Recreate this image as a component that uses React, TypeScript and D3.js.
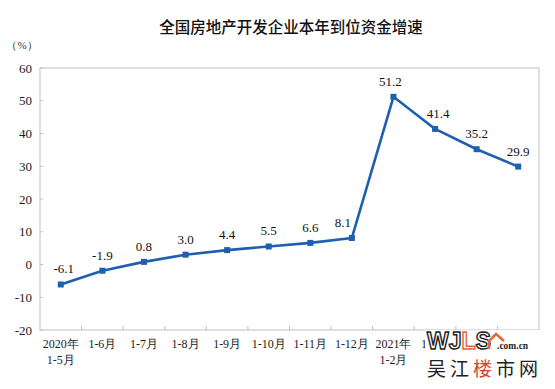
import React from "react";
import * as d3 from "d3";

const categoriesTop = ["2020年", "1-6月", "1-7月", "1-8月", "1-9月", "1-10月", "1-11月", "1-12月", "2021年", "1-3月", "1-4月", "1-5月"];
const categoriesBottom = ["1-5月", "", "", "", "", "", "", "", "1-2月", "", "", ""];
const values = [-6.1, -1.9, 0.8, 3.0, 4.4, 5.5, 6.6, 8.1, 51.2, 41.4, 35.2, 29.9];
const labelShift = [3, 0, 0, 0, 0, 0, 0, -9, -3, 3, 0, 0];
const yTicks = [-20, -10, 0, 10, 20, 30, 40, 50, 60];
const title = "全国房地产开发企业本年到位资金增速";
const unitLabel = "（%）";

const W = 555;
const H = 389;
const left = 40;
const right = 539;
const top = 68;
const bottom = 330;
const blue = "#1F5FB0";
const frame = "#BFBFBF";
const serif = "Liberation Serif, DejaVu Serif, Times New Roman, serif";

export default function App() {
  const idx = values.map((_, i) => String(i));
  const x = d3.scaleBand<string>().domain(idx).range([left, right]);
  const y = d3.scaleLinear().domain([-20, 60]).range([bottom, top]);
  const cx = (i: number) => (x(String(i)) as number) + x.bandwidth() / 2;
  const line = d3
    .line<number>()
    .x((_, i) => cx(i))
    .y((d) => y(d));

  return (
    <div style={{ position: "absolute", left: 0, top: 0 }}>
      <svg width={W} height={H} style={{ display: "block", background: "#fff" }}>
        <rect x={0} y={0} width={W} height={H} fill="#fff" />
        <text x={291} y={33} textAnchor="middle" fontSize={15.5} fontWeight={500} style={{ fontFamily: "Noto Sans CJK SC, sans-serif" }} fill="#111">
          {title}
        </text>
        <text x={22} y={49} textAnchor="middle" fontSize={11} style={{ fontFamily: serif }} fill="#333">
          {unitLabel}
        </text>
        <rect x={left} y={top} width={right - left} height={bottom - top} fill="none" stroke={frame} strokeWidth={1} />
        {yTicks.map((t) => (
          <g key={t}>
            <line x1={left} x2={left + 3} y1={y(t)} y2={y(t)} stroke={frame} />
            <text x={32} y={y(t) + 4.5} textAnchor="end" fontSize={13} style={{ fontFamily: serif }} fill="#222">
              {t}
            </text>
          </g>
        ))}
        {idx.slice(1).map((k) => (
          <line key={k} x1={x(k) as number} x2={x(k) as number} y1={bottom} y2={bottom - 4} stroke={frame} />
        ))}
        {categoriesTop.map((c, i) => (
          <text key={"t" + i} x={cx(i)} y={348} textAnchor="middle" fontSize={12} style={{ fontFamily: serif }} fill="#222">
            {c}
          </text>
        ))}
        {categoriesBottom.map((c, i) =>
          c ? (
            <text key={"b" + i} x={cx(i)} y={364} textAnchor="middle" fontSize={12} style={{ fontFamily: serif }} fill="#222">
              {c}
            </text>
          ) : null
        )}
        <path d={line(values) as string} fill="none" stroke={blue} strokeWidth={2.6} strokeLinejoin="round" />
        {values.map((v, i) => (
          <rect key={"m" + i} x={cx(i) - 3} y={y(v) - 3} width={6} height={6} fill={blue} />
        ))}
        {values.map((v, i) => (
          <text key={"l" + i} x={cx(i) + labelShift[i]} y={y(v) - 11} textAnchor="middle" fontSize={13} style={{ fontFamily: serif }} fill="#111">
            {v.toFixed(1)}
          </text>
        ))}
        <g>
          <rect x={425} y={330} width={123} height={59} fill="#fff" />
          <text x={427} y={349} fontSize={23} fontWeight="bold" style={{ fontFamily: "Liberation Sans, Arial, sans-serif" }} fill="#fff" stroke="#222" strokeWidth={1.4}>
            WJ<tspan fill="#fff" stroke="#E8643A">L</tspan>S
          </text>
          <path d="M489,349 L489,341 L496,334 L504,341" fill="none" stroke="#E8643A" strokeWidth={2.5} />
          <text x={497} y={349} fontSize={9.5} fontWeight="bold" style={{ fontFamily: serif }} fill="#222">
            .com.cn
          </text>
          <text x={427} y={376} fontSize={19} style={{ fontFamily: "Noto Sans CJK SC, sans-serif" }} fill="#222" letterSpacing={4}>
            吴江<tspan fill="#D9452A">楼</tspan>市网
          </text>
        </g>
      </svg>
    </div>
  );
}
